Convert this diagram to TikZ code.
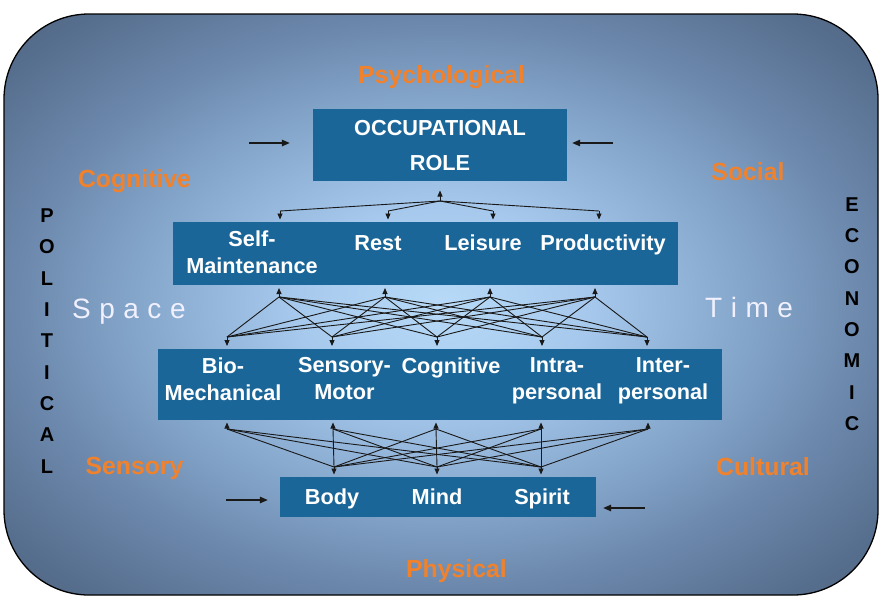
\documentclass[tikz,border=0pt]{standalone}
\usepackage{fontspec}
\setmainfont{Liberation Sans}
\usetikzlibrary{arrows.meta}
\definecolor{boxblue}{RGB}{27,102,152}
\definecolor{orng}{RGB}{240,130,45}
\definecolor{bgA}{RGB}{184,218,248}
\definecolor{bgB}{RGB}{166,200,236}
\definecolor{bgC}{RGB}{132,165,202}
\definecolor{bgD}{RGB}{106,134,170}
\definecolor{bgE}{RGB}{86,110,141}
\definecolor{bgF}{RGB}{74,94,121}
\pgfdeclareradialshading{bgshade}{\pgfpoint{0bp}{0bp}}{color(0bp)=(bgA); color(8.5bp)=(bgB); color(17.7bp)=(bgC); color(24.8bp)=(bgD); color(31.9bp)=(bgE); color(38bp)=(bgF); color(50bp)=(bgF)}
\begin{document}
\begin{tikzpicture}[x=1pt,y=-1pt,
  box/.style={rectangle, fill=boxblue, draw=none, inner sep=0pt},
  boxtxt/.style={text=white, font=\fontsize{21.7}{27}\selectfont\bfseries, inner sep=0pt, align=center},
  roletxt/.style={text=white, font=\fontsize{21.7}{35}\selectfont\bfseries, inner sep=0pt, align=center},
  ctx/.style={text=orng, font=\fontsize{24.8}{28}\selectfont\bfseries, inner sep=0pt, anchor=base},
  dim/.style={text=white!94!blue, font=\fontsize{28}{32}\selectfont, inner sep=0pt, anchor=base west},
  vert/.style={text=black, font=\fontsize{20}{31.3}\selectfont\bfseries, inner sep=0pt, align=center},
  fan/.style={line width=0.9pt, black!90},
  fantip/.style={line width=0.9pt, black!90, -{Triangle[length=6pt,width=5pt]}},
  sidearrow/.style={line width=1.3pt, black!90, -{Triangle[length=8pt,width=6.5pt]}}]
\useasboundingbox (0,0) rectangle (884,606);
\fill[white] (0,0) rectangle (884,606);
\shadedraw[shading=bgshade, rounded corners=85pt, line width=1.3pt] (4,14) rectangle (878,595);

% boxes
\node[box, minimum width=254pt, minimum height=72pt] (role) at (440,145) {};
\node[box, minimum width=505pt, minimum height=63pt] (acts) at (425.5,253.5) {};
\node[box, minimum width=564pt, minimum height=71pt] (skills) at (440,384.5) {};
\node[box, minimum width=316pt, minimum height=40pt] (bms) at (438,497) {};

% box texts
\node[roletxt] (occ) at (440,146) {OCCUPATIONAL\\ROLE};
\node[boxtxt] (selfm) at (252,252) {Self-\\Maintenance};
\node[boxtxt, anchor=base] (rest) at (378,250) {Rest};
\node[boxtxt, anchor=base] (leis) at (483,250) {Leisure};
\node[boxtxt, anchor=base] (prod) at (603,250) {Productivity};
\node[boxtxt] (bio) at (223,379) {Bio-\\Mechanical};
\node[boxtxt] (senm) at (344.5,379) {Sensory-\\Motor};
\node[boxtxt, anchor=base] (cogn) at (451,373) {Cognitive};
\node[boxtxt] (intra) at (557,381) {Intra-\\personal};
\node[boxtxt] (inter) at (663,381) {Inter-\\personal};
\node[boxtxt, anchor=base] (body) at (332,504) {Body};
\node[boxtxt, anchor=base] (mind) at (437,504) {Mind};
\node[boxtxt, anchor=base] (spirit) at (542,504) {Spirit};

% context labels
\node[ctx] (psych) at (441.5,83) {Psychological};
\node[ctx] (cogl) at (134.5,187) {Cognitive};
\node[ctx] (social) at (748,180) {Social};
\node[ctx] (sens) at (134.5,474) {Sensory};
\node[ctx] (cult) at (763,475) {Cultural};
\node[ctx] (phys) at (456.5,577) {Physical};
\node[dim] (space) at (72,318) {S\kern8.5pt p\kern8.5pt a\kern8.5pt c\kern8.5pt e};
\node[dim] (time) at (705,317) {T\kern8.5pt i\kern8.5pt m\kern8.5pt e};
\node[vert] (pol) at (47,341) {P\\O\\L\\I\\T\\I\\C\\A\\L};
\node[vert] (eco) at (852,314) {E\\C\\O\\N\\O\\M\\I\\C};

% side arrows
\coordinate (la1) at (249,143);
\coordinate (ra1) at (613,143);
\coordinate (la2) at (226,500);
\coordinate (ra2) at (645,508);
\draw[sidearrow, shorten >=23pt] (la1) -- (la1 -| role.west);
\draw[sidearrow, shorten >=5pt] (ra1) -- (ra1 -| role.east);
\draw[sidearrow, shorten >=12pt] (la2) -- (la2 -| bms.west);
\draw[sidearrow, shorten >=7pt] (ra2) -- (ra2 -| bms.east);

% top fan
\coordinate (h0) at (440,201);
\coordinate (h0t) at (440,190.5);
\draw[fantip] (h0) -- (h0t);
\foreach \x [count=\i] in {280,388,493,599} {
  \coordinate (ta\i) at (\x,211);
  \coordinate (tat\i) at (\x,219.5);
  \draw[fan] (h0) -- (ta\i);
  \draw[fantip] (ta\i) -- (tat\i);
}

% middle fan
\foreach \x [count=\i] in {279,385,490,595} {
  \coordinate (mt\i) at (\x,297);
  \coordinate (mtt\i) at (\x,288);
  \draw[fantip] (mt\i) -- (mtt\i);
}
\foreach \x [count=\j] in {227,332,437,542,647} {
  \coordinate (mb\j) at (\x,337);
  \coordinate (mbt\j) at (\x,346);
  \draw[fantip] (mb\j) -- (mbt\j);
}
\foreach \i in {1,...,4} {\foreach \j in {1,...,5} {\draw[fan] (mt\i) -- (mb\j);}}

% bottom fan
\foreach \x [count=\i] in {227,333,436,541,648} {
  \coordinate (bt\i) at (\x,429);
  \coordinate (btt\i) at (\x,422.5);
  \draw[fantip] (bt\i) -- (btt\i);
}
\foreach \x [count=\j] in {334,437,541} {
  \coordinate (bb\j) at (\x,467);
  \coordinate (bbt\j) at (\x,474.5);
  \draw[fantip] (bb\j) -- (bbt\j);
}
\foreach \i in {1,...,5} {\foreach \j in {1,...,3} {\draw[fan] (bt\i) -- (bb\j);}}
\end{tikzpicture}
\end{document}
